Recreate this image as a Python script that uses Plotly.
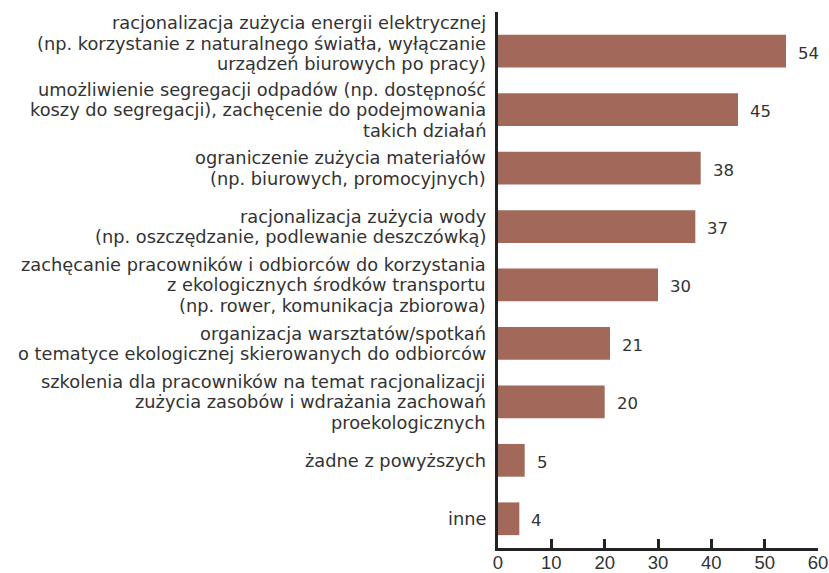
import plotly.graph_objects as go

categories = [
    "racjonalizacja zużycia energii elektrycznej<br>(np. korzystanie z naturalnego światła, wyłączanie<br>urządzeń biurowych po pracy)",
    "umożliwienie segregacji odpadów (np. dostępność<br>koszy do segregacji), zachęcenie do podejmowania<br>takich działań",
    "ograniczenie zużycia materiałów<br>(np. biurowych, promocyjnych)",
    "racjonalizacja zużycia wody<br>(np. oszczędzanie, podlewanie deszczówką)",
    "zachęcanie pracowników i odbiorców do korzystania<br>z ekologicznych środków transportu<br>(np. rower, komunikacja zbiorowa)",
    "organizacja warsztatów/spotkań<br>o tematyce ekologicznej skierowanych do odbiorców",
    "szkolenia dla pracowników na temat racjonalizacji<br>zużycia zasobów i wdrażania zachowań<br>proekologicznych",
    "żadne z powyższych",
    "inne",
]
values = [54, 45, 38, 37, 30, 21, 20, 5, 4]
tick_vals = [0, 10, 20, 30, 40, 50, 60]

FONT = "DejaVu Sans"
TXT = "#333333"
LINE_H = 20.5

fig = go.Figure()
fig.add_trace(go.Bar(
    x=values, y=categories, orientation="h",
    marker=dict(color="#a2685a", line=dict(width=0)),
    width=0.56,
    hoverinfo="skip",
))

for idx, (c, v) in enumerate(zip(categories, values)):
    fig.add_annotation(x=v, y=c, xref="x", yref="y", text=str(v),
                       showarrow=False, xanchor="left", xshift=10, yshift=-2,
                       font=dict(family=FONT, size=16.5, color=TXT))
    lines = c.split("<br>")
    n = len(lines)
    base = 8 if idx == 0 else 0
    for i, ln in enumerate(lines):
        fig.add_annotation(x=0, y=c, xref="paper", yref="y", text=ln,
                           showarrow=False, xanchor="right", yanchor="middle",
                           align="right", xshift=-10,
                           yshift=base + ((n - 1) / 2 - i) * LINE_H,
                           font=dict(family=FONT, size=17.8, color=TXT))

fig.update_layout(
    width=829, height=573,
    margin=dict(l=498, r=11, t=12, b=25),
    plot_bgcolor="white", paper_bgcolor="white",
    showlegend=False,
    xaxis=dict(range=[0, 60], tickvals=tick_vals, ticks="inside", ticklen=9,
               tickwidth=2.5, tickcolor="#222", showline=True, linecolor="#222",
               linewidth=2.5, showgrid=False, zeroline=False, automargin=False,
               ticklabeloverflow="allow", ticklabelstandoff=-4,
               tickfont=dict(family="Liberation Sans", size=18.5, color=TXT)),
    yaxis=dict(categoryorder="array", categoryarray=categories[::-1],
               range=[-0.5, 8.67], showticklabels=False, ticks="",
               showline=True, linecolor="#222", linewidth=2.5, showgrid=False,
               zeroline=False, automargin=False),
)

fig.write_html(
    "out.html",
    config={"displayModeBar": False},
    post_script="document.body.style.margin='0';document.body.style.overflow='hidden';",
)
